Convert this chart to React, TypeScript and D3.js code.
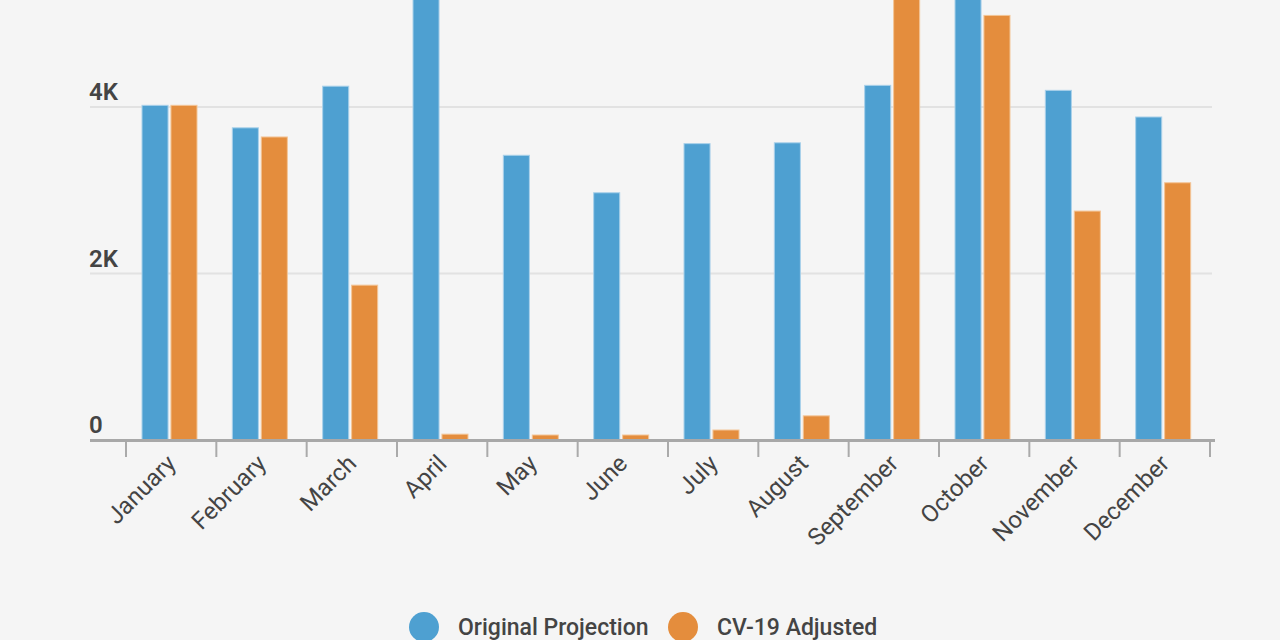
import React from "react";
import * as d3 from "d3";

const months = ["January","February","March","April","May","June","July","August","September","October","November","December"];
const seriesNames = ["Original Projection", "CV-19 Adjusted"];
const originalProjection = [4020, 3750, 4250, 5600, 3420, 2970, 3560, 3570, 4260, 5700, 4200, 3880];
const cv19Adjusted = [4020, 3640, 1860, 70, 60, 60, 120, 290, 5600, 5100, 2750, 3090];
const yTicks = [0, 2000, 4000];
const yTickLabels = ["0", "2K", "4K"];
const colors = ["#4ea0d1", "#e48d3d"];
const strokes = ["#a9d1ea", "#f3c597"];

export default function App() {
  const W = 1280, H = 640;
  const x = d3.scaleBand<string>().domain(months).range([126, 1210]).padding(0);
  const inner = d3.scaleBand<string>().domain(seriesNames).range([16, 71]).paddingInner(0.1);
  const y = d3.scaleLinear().domain([0, 4000]).range([440, 107]);
  const data = [originalProjection, cv19Adjusted];
  const font = "Roboto, 'Noto Sans', sans-serif";
  const boundaries = months.map((m) => x(m) as number).concat([x.range()[1]]);

  return (
    <div style={{ position: "fixed", left: 0, top: 0, width: W, height: H, background: "#f5f5f5" }}>
      <svg width={W} height={H} style={{ display: "block" }}>
        <rect x={0} y={0} width={W} height={H} fill="#f5f5f5" />
        {yTicks.slice(1).map((t) => (
          <line key={t} x1={90} x2={1212} y1={y(t)} y2={y(t)} stroke="#e2e2e2" strokeWidth={2} />
        ))}
        {yTicks.map((t, i) => (
          <text key={t} x={89} y={y(t) - 7} fontFamily={font} fontSize={24} fontWeight={600} fill="#444444">
            {yTickLabels[i]}
          </text>
        ))}
        {months.map((m, mi) => (
          <g key={m} transform={`translate(${x(m)},0)`}>
            {data.map((series, si) => {
              const v = series[mi];
              const top = y(v);
              return (
                <rect
                  key={si}
                  x={inner(seriesNames[si])}
                  y={top}
                  width={inner.bandwidth()}
                  height={y(0) - top}
                  fill={colors[si]}
                  stroke={strokes[si]}
                  strokeWidth={1}
                />
              );
            })}
          </g>
        ))}
        {boundaries.map((b, i) => (
          <line key={i} x1={b} x2={b} y1={440} y2={457} stroke="#aaaaaa" strokeWidth={2} />
        ))}
        <line x1={90} x2={1215} y1={440.5} y2={440.5} stroke="#a8a8a8" strokeWidth={3} />
        {months.map((m) => {
          const cx = (x(m) as number) + x.bandwidth() / 2;
          return (
            <text
              key={m}
              transform={`translate(${cx + 6},${465}) rotate(-45)`}
              textAnchor="end"
              fontFamily={font}
              fontSize={24}
              fill="#444444"
            >
              {m}
            </text>
          );
        })}
        <g>
          <circle cx={424} cy={627} r={15} fill={colors[0]} />
          <text x={458} y={635} fontFamily={font} fontSize={23} fontWeight={500} fill="#444444">{seriesNames[0]}</text>
          <circle cx={683} cy={627} r={15} fill={colors[1]} />
          <text x={717} y={635} fontFamily={font} fontSize={23} fontWeight={500} fill="#444444">{seriesNames[1]}</text>
        </g>
      </svg>
    </div>
  );
}
